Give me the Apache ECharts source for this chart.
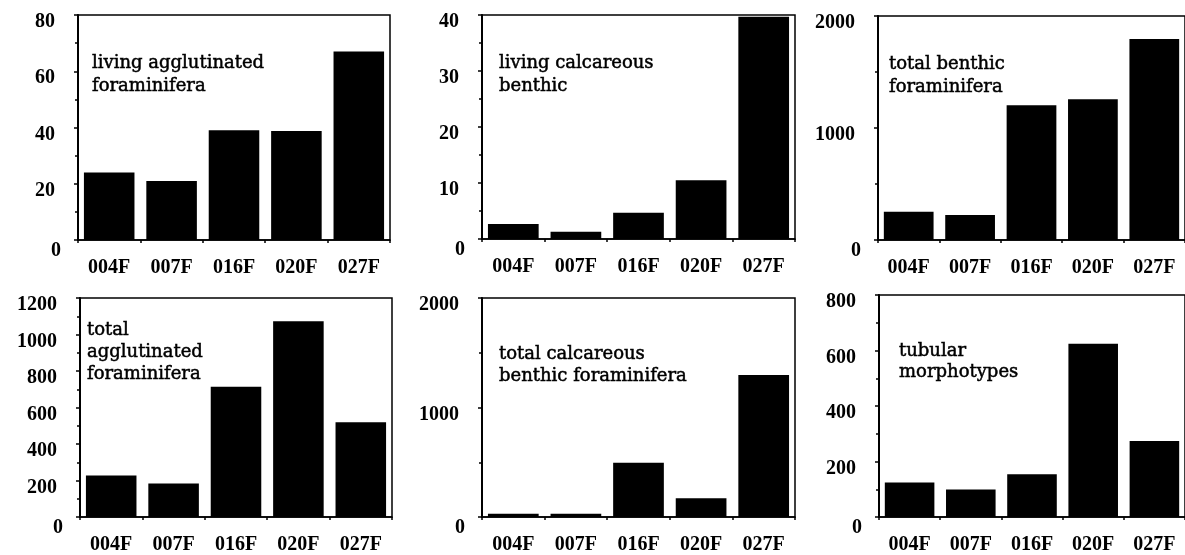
<!DOCTYPE html>
<html>
<head>
<meta charset="utf-8">
<script src="https://cdn.jsdelivr.net/npm/echarts@6/dist/echarts.min.js"></script>
<style>
html,body{margin:0;padding:0;background:#fff;}
#chart{width:1185px;height:555px;}
</style>
</head>
<body>
<div id="chart"></div>
<script>
// ---- data ----
const categories = ['004F', '007F', '016F', '020F', '027F'];
const livingAgglutinated = [24, 21, 39, 38.8, 67];
const livingCalcareous = [2.7, 1.3, 4.7, 10.5, 39.7];
const totalBenthic = [253, 223, 1203, 1256, 1795];
const totalAgglutinated = [227, 184, 714, 1072, 519];
const totalCalcareous = [30, 30, 495, 172, 1297];
const tubularMorphotypes = [124, 99, 154, 624, 274];

const panelLabels = [
  'living agglutinated\nforaminifera',
  'living calcareous\nbenthic',
  'total benthic\nforaminifera',
  'total\nagglutinated\nforaminifera',
  'total calcareous\nbenthic foraminifera',
  'tubular\nmorphotypes'
];
const panelSeries = [livingAgglutinated, livingCalcareous, totalBenthic, totalAgglutinated, totalCalcareous, tubularMorphotypes];
const yMax = [80, 40, 2000, 1200, 2000, 800];
const yInterval = [20, 10, 1000, 200, 1000, 200];

// ---- layout ----
const boxes = [
  [78, 15, 312, 225],
  [482, 15, 313, 224],
  [878, 16, 312, 224],
  [80, 298, 312, 222],
  [482, 298, 313, 221],
  [879, 295, 312, 227]
];
const labelPos = [
  [92, 52, 23],
  [499, 52, 23],
  [889, 53, 23],
  [87, 319, 22],
  [499, 343, 22],
  [899, 341, 21]
];

const tickFont = {fontFamily: '"Liberation Serif", serif', fontWeight: 'bold', fontSize: 20, color: '#000'};

const grids = [], xAxes = [], yAxes = [], series = [], titles = [];
boxes.forEach((b, i) => {
  grids.push({left: b[0], top: b[1], width: b[2], height: b[3], show: true, borderColor: '#000', borderWidth: 1.5, backgroundColor: 'transparent'});
  xAxes.push({
    type: 'category', gridIndex: i, data: categories,
    axisLine: {lineStyle: {color: '#000', width: 1.5}},
    axisTick: {show: true, length: 3, lineStyle: {color: '#000', width: 1.5}},
    axisLabel: Object.assign({margin: 18}, tickFont)
  });
  yAxes.push({
    type: 'value', gridIndex: i, min: 0, max: yMax[i], interval: yInterval[i],
    axisLine: {show: true, lineStyle: {color: '#000', width: 2}},
    axisTick: {show: true, length: 4, lineStyle: {color: '#000', width: 1.5}},
    minorTick: {show: true, splitNumber: 2, length: 3, lineStyle: {color: '#000', width: 1.5}},
    splitLine: {show: false},
    axisLabel: {
      margin: 17,
      formatter: v => (v === 0 ? '{z|0}' : '{a|' + v + '}'),
      rich: {
        a: Object.assign({padding: [14, 6, 0, 0]}, tickFont),
        z: Object.assign({padding: [22, 0, 0, 0]}, tickFont)
      }
    }
  });
  series.push({
    type: 'bar', xAxisIndex: i, yAxisIndex: i, data: panelSeries[i],
    barWidth: '81%', itemStyle: {color: '#000'}, silent: true
  });
  titles.push({
    text: panelLabels[i], left: labelPos[i][0], top: labelPos[i][1], padding: 0,
    textStyle: {fontFamily: '"DejaVu Serif", serif', fontWeight: 'normal', fontSize: 18, lineHeight: labelPos[i][2], color: '#000', textBorderColor: '#000', textBorderWidth: 0.5}
  });
});

const chart = echarts.init(document.getElementById('chart'), null, {renderer: 'canvas'});
chart.setOption({
  animation: false,
  backgroundColor: '#fff',
  title: titles,
  grid: grids,
  xAxis: xAxes,
  yAxis: yAxes,
  series: series
});
</script>
</body>
</html>
